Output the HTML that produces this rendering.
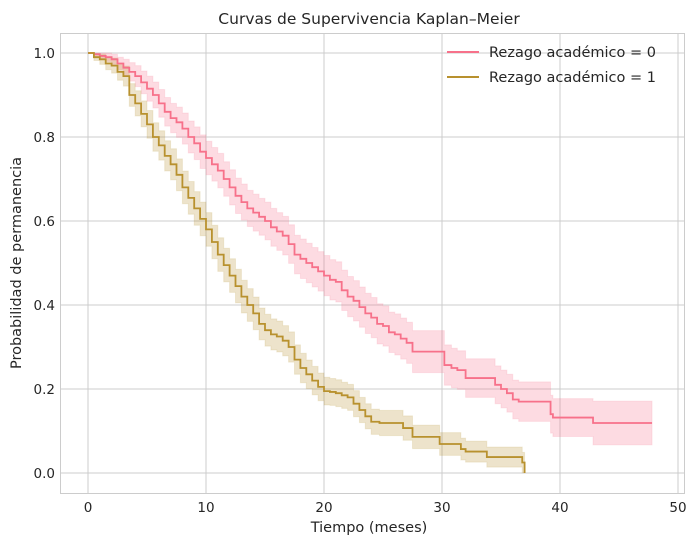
<!DOCTYPE html>
<html><head><meta charset="utf-8"><style>
body{margin:0;background:#fff;}
svg{display:block;font-family:"DejaVu Sans","Liberation Sans",sans-serif;}
</style></head><body>
<svg id="chart" width="696" height="544" viewBox="0 0 696 544">
<text x="369" y="24" text-anchor="middle" font-size="15.5" fill="#262626">Curvas de Supervivencia Kaplan–Meier</text>
<text x="369" y="532" text-anchor="middle" font-size="14.5" fill="#262626">Tiempo (meses)</text>
<text x="21" y="263" text-anchor="middle" font-size="14.5" fill="#262626" transform="rotate(-90 21 263)">Probabilidad de permanencia</text>
<g id="grid"></g><g id="bands"></g><g id="lines"></g><g id="ticks"></g>
<rect x="60.5" y="33.5" width="624" height="460" fill="none" stroke="#cccccc"/>
<g>
<line x1="447" y1="52" x2="479" y2="52" stroke="#f7718a" stroke-width="2"/>
<text x="489" y="57" font-size="14.5" fill="#262626">Rezago académico = 0</text>
<line x1="447" y1="77" x2="479" y2="77" stroke="#b8912e" stroke-width="2"/>
<text x="489" y="82" font-size="14.5" fill="#262626">Rezago académico = 1</text>
</g>
</svg>
<script>
const xTicks=[0,10,20,30,40,50];
const yTicks=[0,0.2,0.4,0.6,0.8,1.0];
const t0=[0,0.5,1,1.5,2,2.5,3,3.5,4,4.5,5,5.5,6,6.5,7,7.5,8,8.5,9,9.5,10,10.5,11,11.5,12,12.5,13,13.5,14,14.5,15,15.5,16,16.5,17,17.5,18,18.5,19,19.5,20,20.5,21,21.5,22,22.5,23,23.5,24,24.5,25,25.5,26,26.5,27,27.5,30.2,30.8,31.3,32,34.5,35,35.5,36,36.5,39.2,39.4,42.8,47.8];
const s0=[1,0.997,0.993,0.99,0.985,0.975,0.965,0.955,0.945,0.93,0.915,0.9,0.88,0.86,0.845,0.835,0.82,0.8,0.785,0.765,0.75,0.735,0.72,0.7,0.68,0.66,0.645,0.63,0.62,0.61,0.6,0.585,0.575,0.565,0.545,0.52,0.51,0.5,0.49,0.48,0.47,0.46,0.455,0.435,0.42,0.41,0.395,0.38,0.37,0.355,0.35,0.335,0.33,0.32,0.31,0.289,0.257,0.25,0.245,0.226,0.21,0.2,0.19,0.175,0.17,0.14,0.132,0.119,0.119];
const h0=[0,0.006,0.008,0.01,0.012,0.015,0.02,0.022,0.025,0.027,0.03,0.031,0.033,0.034,0.035,0.036,0.037,0.038,0.039,0.04,0.04,0.04,0.041,0.041,0.042,0.042,0.043,0.043,0.044,0.044,0.045,0.045,0.045,0.046,0.046,0.046,0.047,0.047,0.047,0.047,0.048,0.048,0.048,0.048,0.048,0.048,0.048,0.048,0.048,0.048,0.048,0.048,0.049,0.049,0.049,0.05,0.048,0.047,0.046,0.046,0.045,0.045,0.045,0.046,0.047,0.045,0.045,0.052,0.052];
const t1=[0,0.5,1,1.5,2,2.5,3,3.5,4,4.5,5,5.5,6,6.5,7,7.5,8,8.5,9,9.5,10,10.5,11,11.5,12,12.5,13,13.5,14,14.5,15,15.5,16,16.5,17,17.5,18,18.5,19,19.5,20,20.5,21,21.5,22,22.5,23,23.5,24,24.7,26.7,27.5,29.8,31.6,32,33.8,36.8,37];
const s1=[1,0.99,0.985,0.975,0.97,0.955,0.945,0.9,0.88,0.855,0.83,0.8,0.78,0.755,0.735,0.71,0.68,0.655,0.63,0.605,0.58,0.55,0.52,0.495,0.47,0.445,0.42,0.4,0.38,0.355,0.34,0.33,0.325,0.315,0.3,0.27,0.25,0.235,0.22,0.205,0.195,0.193,0.19,0.185,0.18,0.165,0.15,0.135,0.122,0.119,0.107,0.086,0.069,0.057,0.051,0.038,0.025,0];
const h1=[0,0.008,0.012,0.015,0.018,0.02,0.024,0.027,0.03,0.031,0.033,0.034,0.035,0.036,0.037,0.038,0.039,0.039,0.04,0.04,0.04,0.04,0.04,0.04,0.04,0.04,0.039,0.039,0.039,0.038,0.038,0.037,0.037,0.036,0.036,0.035,0.035,0.034,0.034,0.033,0.033,0.032,0.032,0.031,0.031,0.031,0.03,0.03,0.03,0.03,0.029,0.028,0.027,0.026,0.025,0.024,0.024,0];
const X=v=>88+v*11.8, Y=v=>473-v*420;
const NS="http://www.w3.org/2000/svg";
function mk(tag,attrs,parent){const e=document.createElementNS(NS,tag);for(const k in attrs)e.setAttribute(k,attrs[k]);parent.appendChild(e);return e;}
const grid=document.getElementById('grid'),ticks=document.getElementById('ticks');
xTicks.forEach(v=>{
 const l=mk('line',{x1:X(v),x2:X(v),y1:33,y2:493,stroke:'#cccccc','stroke-width':1},grid);
 
 
 const t=mk('text',{x:X(v),y:512,'text-anchor':'middle','font-size':13.5,fill:'#262626'},ticks);
 t.textContent=v;
 
 
});
yTicks.forEach(v=>{
 const l=mk('line',{x1:60,x2:684,y1:Y(v),y2:Y(v),stroke:'#cccccc','stroke-width':1},grid);
 
 
 const t=mk('text',{x:55,y:Y(v)+5,'text-anchor':'end','font-size':13.5,fill:'#262626'},ticks);
 t.textContent=v.toFixed(1);
 
 
});
function stepPts(t,s){let p=[];for(let i=0;i<t.length;i++){if(i>0)p.push([X(t[i]),Y(s[i-1])]);p.push([X(t[i]),Y(s[i])]);}return p;}
function draw(t,s,h,col,idx){
 const hi=s.map((v,i)=>Math.min(1,v+h[i])),lo=s.map((v,i)=>Math.max(0,v-h[i]));
 const up=stepPts(t,hi),dn=stepPts(t,lo).reverse();
 const b=mk('path',{d:'M'+up.concat(dn).map(p=>p.join(',')).join('L')+'Z',fill:col,'fill-opacity':0.25,stroke:col,'stroke-opacity':0.15},document.getElementById('bands'));
 
 
 const l=mk('path',{d:'M'+stepPts(t,s).map(p=>p.join(',')).join('L'),fill:'none',stroke:col,'stroke-width':1.8},document.getElementById('lines'));
 
 
}
draw(t0,s0,h0,'#f7718a',0);
draw(t1,s1,h1,'#b8912e',1);
</script>
</body></html>
